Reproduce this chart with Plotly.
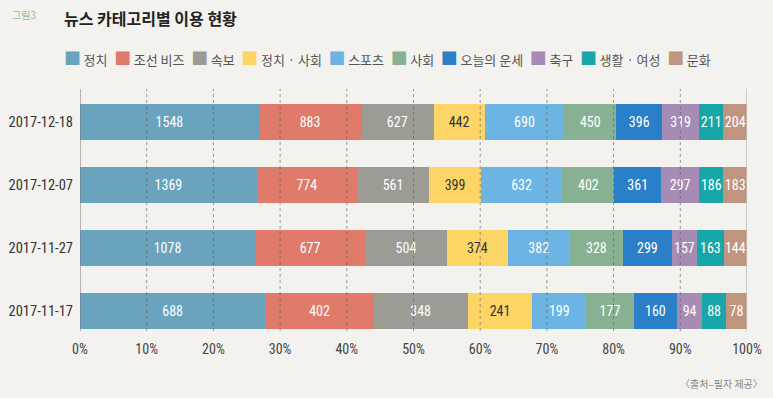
import plotly.graph_objects as go

dates = ["2017-11-17", "2017-11-27", "2017-12-07", "2017-12-18"]
categories = ["정치", "조선 비즈", "속보", "정치 · 사회", "스포츠", "사회", "오늘의 운세", "축구", "생활 · 여성", "문화"]
v_politics = [688, 1078, 1369, 1548]
v_chosunbiz = [402, 677, 774, 883]
v_breaking = [348, 504, 561, 627]
v_polsoc = [241, 374, 399, 442]
v_sports = [199, 382, 632, 690]
v_society = [177, 328, 402, 450]
v_fortune = [160, 299, 361, 396]
v_soccer = [94, 157, 297, 319]
v_life = [88, 163, 186, 211]
v_culture = [78, 144, 183, 204]
series = [v_politics, v_chosunbiz, v_breaking, v_polsoc, v_sports, v_society,
          v_fortune, v_soccer, v_life, v_culture]
colors = ["#6aa3be", "#e07a6a", "#9c9c94", "#fdd567", "#6cb4e4", "#87b192",
          "#2a80c8", "#a68cb4", "#18a6a9", "#c09580"]
text_colors = ["white", "white", "white", "#333333", "white", "white", "white", "white", "white", "white"]
x_ticks = [0, 10, 20, 30, 40, 50, 60, 70, 80, 90, 100]
x_tick_labels = [f"{t}%" for t in x_ticks]

NUM_FONT = "Liberation Sans Narrow, Roboto Condensed, Roboto, sans-serif"
KR_FONT = "Noto Sans CJK KR, Noto Sans, sans-serif"

fig = go.Figure()
for name, vals, col, tc in zip(categories, series, colors, text_colors):
    fig.add_trace(go.Bar(
        y=dates, x=vals, name=name, orientation="h",
        marker=dict(color=col, line=dict(width=0)),
        text=[str(v) for v in vals], textposition="inside",
        insidetextanchor="middle", textangle=0, constraintext="none",
        textfont=dict(color=tc, size=14, family=NUM_FONT),
        width=0.57, hoverinfo="skip", showlegend=False,
    ))

shapes = []
for t in x_ticks:
    if t == 0:
        line = dict(color="#777777", width=1)
    elif t == 100:
        line = dict(color="#bbbbbb", width=1.5)
    else:
        line = dict(color="rgba(90,90,90,0.6)", width=1, dash="dot")
    shapes.append(dict(type="line", xref="x", yref="paper", x0=t, x1=t, y0=0, y1=1,
                       line=line, layer="above"))

# legend built as a single rich-text line from the category names and colours
legend_parts = []
for name, col in zip(categories, colors):
    legend_parts.append(
        f'<span style="color:{col};font-size:17px">■</span>\u2009{name}'
    )
legend_text = "\u00a0\u00a0\u200a".join(legend_parts)

fig.update_layout(
    width=773, height=398,
    barmode="stack", barnorm="percent",
    paper_bgcolor="#f3f2ef", plot_bgcolor="#f3f2ef",
    margin=dict(l=80, r=26, t=89, b=67),
    showlegend=False,
    xaxis=dict(range=[0, 100], tickvals=x_ticks, ticktext=x_tick_labels,
               showgrid=False, zeroline=False, showline=False, ticks="",
               automargin=False, ticklabelstandoff=8,
               tickfont=dict(family=NUM_FONT, size=14, color="#444444")),
    yaxis=dict(type="category", categoryorder="array", categoryarray=dates,
               range=[-0.32, 3.52], showgrid=False, zeroline=False, ticks="",
               automargin=False, ticklabelstandoff=6,
               tickfont=dict(family=NUM_FONT, size=14.5, color="#333333")),
    shapes=shapes,
    annotations=[
        dict(text="그림3", xref="paper", yref="paper", x=-0.105, y=1.306,
             xanchor="left", yanchor="middle", showarrow=False,
             font=dict(family=KR_FONT, size=10, color="#8fbf9a")),
        dict(text="<b>뉴스 카테고리별 이용 현황</b>", xref="paper", yref="paper",
             x=-0.027, y=1.293, xanchor="left", yanchor="middle", showarrow=False,
             font=dict(family=KR_FONT, size=16, color="#222222")),
        dict(text=legend_text, xref="paper", yref="paper",
             x=-0.027, y=1.132, xanchor="left", yanchor="middle", showarrow=False,
             font=dict(family=KR_FONT, size=13, color="#555555")),
        dict(text="〈출처–필자 제공〉", xref="paper", yref="paper", x=1.027, y=-0.215,
             xanchor="right", yanchor="middle", showarrow=False,
             font=dict(family=KR_FONT, size=10, color="#888888")),
    ],
)

fig.write_html("out.html", config={"displayModeBar": False},
               post_script="document.body.style.margin='0';")
